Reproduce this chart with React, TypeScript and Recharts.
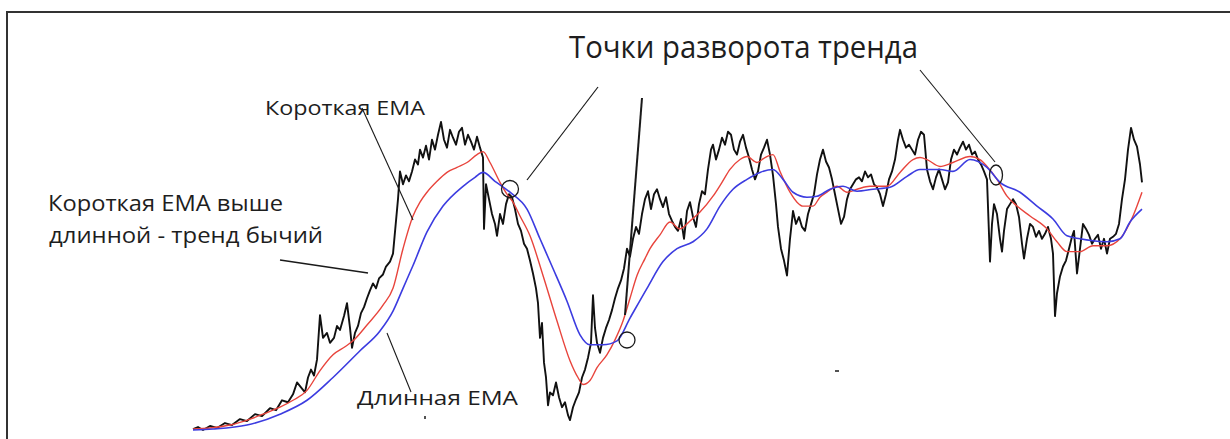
import React from "react";
import { LineChart, Line, XAxis, YAxis } from "recharts";

// x = trading day index, v = price level (units)
const priceRaw: [number, number][] = [
  [193,432],[198,430],[203,433],[210,429],[217,431],[225,426],[232,428],[240,422],[247,424],[255,417],
  [262,419],[270,411],[276,413],[282,403],[288,405],[293,397],[297,385],[301,390],[305,395],[308,380],
  [311,372],[314,378],[317,362],[320,317],[323,340],[327,335],[330,345],[334,340],[337,328],[340,332],
  [344,318],[347,305],[350,330],[352,350],[355,335],[358,328],[361,315],[364,309],[367,300],[370,292],
  [373,285],[376,290],[379,280],[383,276],[386,268],[390,263],[393,255],[396,222],[398,200],[400,172],
  [403,185],[406,176],[409,182],[412,172],[415,160],[418,165],[420,150],[423,158],[426,146],[429,160],
  [432,140],[435,150],[438,135],[441,122],[444,140],[447,148],[450,130],[453,138],[456,145],[459,132],
  [462,128],[465,145],[468,135],[471,142],[474,150],[477,137],[480,148],[483,158],[484,230],[486,185],
  [489,200],[492,215],[495,225],[497,237],[500,215],[503,225],[506,205],[509,195],[512,198],[515,210],
  [518,225],[521,232],[524,245],[527,250],[530,262],[533,275],[536,290],[538,305],[540,340],[542,325],
  [544,365],[546,380],[548,408],[550,395],[553,398],[556,385],[559,400],[562,410],[565,405],[568,418],
  [570,423],[573,410],[576,402],[579,395],[582,380],[585,372],[588,360],[591,345],[593,297],[595,330],
  [597,345],[600,355],[603,340],[606,330],[609,322],[612,312],[615,300],[618,290],[621,282],[624,270],
  [627,250],[630,258],[633,240],[636,228],[639,235],[642,215],[645,200],[648,192],[651,210],[654,195],
  [657,190],[660,200],[663,208],[666,198],[669,215],[672,222],[675,228],[678,232],[681,220],[684,240],
  [687,212],[690,203],[693,218],[696,228],[699,205],[702,192],[705,195],[708,170],[711,150],[713,145],
  [716,160],[719,150],[722,138],[725,145],[728,132],[731,135],[734,150],[737,155],[740,142],[743,135],
  [746,148],[749,158],[752,170],[755,180],[758,172],[761,155],[764,148],[767,140],[770,155],[773,176],
  [776,205],[778,228],[781,250],[784,262],[787,277],[790,240],[793,212],[796,225],[799,218],[802,228],
  [805,232],[808,215],[811,205],[814,195],[817,175],[820,160],[823,150],[826,162],[829,168],[832,180],
  [835,195],[838,210],[841,225],[844,218],[847,200],[850,190],[853,185],[856,180],[859,178],[862,182],
  [865,172],[868,178],[871,175],[874,185],[877,188],[880,195],[883,207],[886,195],[889,180],[892,172],
  [895,160],[898,140],[900,130],[903,140],[906,148],[909,145],[912,150],[915,155],[918,140],[921,132],
  [924,135],[927,170],[930,182],[933,190],[936,178],[939,170],[942,180],[945,190],[948,183],[951,160],
  [954,150],[957,155],[960,148],[963,142],[966,150],[969,145],[972,155],[975,152],[978,160],[981,165],
  [984,172],[987,180],[990,263],[992,225],[994,205],[997,215],[1000,240],[1002,253],[1004,232],[1007,210],
  [1010,205],[1013,200],[1016,205],[1019,218],[1022,245],[1024,260],[1027,240],[1030,225],[1033,228],[1036,238],
  [1039,232],[1042,240],[1045,235],[1048,228],[1051,240],[1053,255],[1055,318],[1057,295],[1060,278],[1063,268],
  [1066,262],[1069,250],[1072,238],[1074,232],[1077,275],[1080,250],[1083,225],[1086,230],[1089,236],[1092,245],
  [1095,240],[1098,236],[1101,250],[1104,240],[1107,255],[1110,240],[1113,238],[1116,235],[1119,225],[1122,200],
  [1125,180],[1128,150],[1131,128],[1134,140],[1137,147],[1140,165],[1142,183],
];

const shortEmaRaw: [number, number][] = [
  [193,432],[210,431],[230,428],[250,422],[263,417],[280,410],[293,403],[307,393],[320,373],[333,357],
  [345,349],[353,343],[367,327],[383,307],[393,290],[403,250],[413,217],[420,203],[427,193],[437,182],
  [447,173],[457,168],[467,163],[477,155],[483,152],[490,163],[500,183],[507,195],[513,203],[520,217],
  [530,237],[543,277],[557,323],[570,363],[578,380],[583,387],[590,383],[597,370],[607,357],[615,342],
  [623,323],[630,300],[637,277],[645,260],[650,250],[660,236],[670,223],[680,230],[690,222],[700,213],
  [713,197],[722,183],[730,170],[740,160],[747,157],[757,163],[765,158],[773,155],[780,172],[790,193],
  [797,203],[803,207],[813,207],[820,198],[827,193],[837,187],[847,193],[857,190],[870,187],[887,187],
  [900,173],[913,160],[920,158],[927,160],[940,167],[953,163],[970,157],[980,160],[987,167],[997,180],
  [1007,197],[1017,207],[1030,217],[1047,230],[1057,243],[1067,253],[1080,253],[1093,247],[1107,247],[1120,240],
  [1133,217],[1142,193],
];

const longEmaRaw: [number, number][] = [
  [193,433],[213,432],[247,428],[280,417],[307,403],[333,380],[360,353],[380,333],[393,313],[403,290],
  [413,267],[427,233],[443,207],[463,187],[475,178],[483,173],[495,182],[510,193],[527,210],[540,240],
  [553,270],[567,303],[580,337],[590,347],[603,347],[617,343],[630,320],[647,290],[663,263],[677,250],
  [693,243],[707,230],[720,207],[733,190],[747,180],[760,173],[773,170],[783,180],[793,193],[807,198],
  [817,197],[830,190],[843,187],[857,192],[873,190],[890,188],[907,177],[920,170],[940,170],[953,172],
  [970,160],[987,168],[1000,183],[1020,193],[1037,207],[1053,220],[1067,237],[1080,240],[1093,242],[1107,243],
  [1120,240],[1130,223],[1142,210],
];

// convert the read-off readings into (day, price)
const toSeries = (arr: [number, number][]) => arr.map(([a, b]) => ({ d: a - 190, v: 430 - b }));
const priceData = toSeries(priceRaw);
const shortEmaData = toSeries(shortEmaRaw);
const longEmaData = toSeries(longEmaRaw);

const W = 1230;
const H = 439;
const FONT = "'Open Sans', 'Noto Sans', sans-serif";

export default function App() {
  return (
    <div style={{ position: "absolute", left: 0, top: 0, width: W, height: H, background: "#fff" }}>
      <LineChart
        width={W}
        height={H}
        margin={{ top: 110, right: 80, bottom: 9, left: 190 }}
      >
        <XAxis type="number" dataKey="d" domain={[0, 960]} hide allowDuplicatedCategory={false} />
        <YAxis type="number" domain={[0, 320]} hide />
        <Line data={priceData} dataKey="v" type="linear" stroke="#111" strokeWidth={1.9} strokeLinejoin="round" dot={false} isAnimationActive={false} />
        <Line data={shortEmaData} dataKey="v" type="monotone" stroke="#e8443c" strokeWidth={1.4} dot={false} isAnimationActive={false} />
        <Line data={longEmaData} dataKey="v" type="monotone" stroke="#3c3ce0" strokeWidth={1.6} dot={false} isAnimationActive={false} />
      </LineChart>
      <svg width={W} height={H} style={{ position: "absolute", left: 0, top: 0, pointerEvents: "none" }}>
        <line x1={6} y1={12} x2={1230} y2={12} stroke="#333" strokeWidth={2} />
        <line x1={7} y1={11} x2={7} y2={439} stroke="#333" strokeWidth={2} />
        <g fill="#1e1e1e" fontFamily={FONT}>
          <text x={569} y={58} fontSize={31} textLength={349} lengthAdjust="spacingAndGlyphs">Точки разворота тренда</text>
          <text x={265} y={115} fontSize={20} textLength={160} lengthAdjust="spacingAndGlyphs">Короткая EMA</text>
          <text x={48} y={211} fontSize={22} textLength={235} lengthAdjust="spacingAndGlyphs">Короткая EMA выше</text>
          <text x={49} y={243} fontSize={22} textLength={274} lengthAdjust="spacingAndGlyphs">длинной - тренд бычий</text>
          <text x={357} y={405} fontSize={20} textLength={161} lengthAdjust="spacingAndGlyphs">Длинная EMA</text>
        </g>
        <g stroke="#1a1a1a" fill="none">
          <line x1={362} y1={108} x2={413} y2={220} strokeWidth={1.1} />
          <line x1={280} y1={260} x2={368} y2={273} strokeWidth={1.5} />
          <line x1={387} y1={333} x2={411} y2={392} strokeWidth={1.1} />
          <line x1={598} y1={87} x2={527} y2={180} strokeWidth={1.2} />
          <line x1={642} y1={98} x2={625} y2={315} strokeWidth={2} />
          <line x1={920} y1={70} x2={995} y2={162} strokeWidth={1.1} />
          <circle cx={510} cy={189} r={8.5} strokeWidth={1.3} />
          <circle cx={627} cy={340} r={8} strokeWidth={1.3} />
          <ellipse cx={996} cy={175} rx={6.5} ry={10} strokeWidth={1.3} />
          <line x1={835} y1={371} x2={839} y2={371} strokeWidth={1.5} />
          <line x1={425} y1={416} x2={425} y2={419} strokeWidth={1.5} />
        </g>
      </svg>
    </div>
  );
}
